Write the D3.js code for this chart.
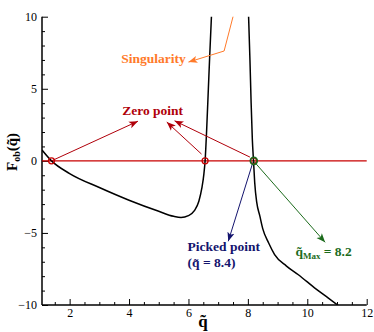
<!DOCTYPE html>
<html>
<head>
<meta charset="utf-8">
<script src="https://cdn.jsdelivr.net/npm/d3@7"></script>
<style>
  body { margin: 0; background: #fff; }
</style>
</head>
<body>
<div id="chart"></div>
<script>
// branch before the singularity (q, F)
const leftQ = [1.07, 1.39, 2, 3, 4, 5, 5.5, 5.75, 6.0, 6.2, 6.35, 6.45, 6.52, 6.56, 6.62, 6.67, 6.72, 6.78];
const leftF = [0.75, 0, -0.88, -1.85, -2.73, -3.5, -3.85, -3.93, -3.8, -3.45, -2.8, -1.9, -0.9, 0, 2.5, 5, 7.5, 10.3];
// branch after the singularity
const rightQ = [8.02, 8.07, 8.11, 8.15, 8.19, 8.23, 8.3, 8.4, 8.5, 8.7, 8.9, 9.3, 9.7, 10.3, 10.7, 11.05];
const rightF = [10.3, 7, 4, 1.5, 0, -1.5, -2.9, -3.8, -4.7, -5.7, -6.5, -7.3, -7.9, -8.9, -9.5, -10.05];

const zeroQ = [1.39, 6.56, 8.19];
const pickedQ = 8.4;
const maxQ = 8.2;

const xTicks = [2, 4, 6, 8, 10, 12];
const yTicks = [-10, -5, 0, 5, 10];

const serif = "Liberation Serif";

const W = 374, H = 332;
const svg = d3.select("#chart").append("svg")
  .attr("width", W).attr("height", H);

const x = d3.scaleLinear().domain([1.07, 12]).range([42, 366.7]);
const y = d3.scaleLinear().domain([-10, 10]).range([305, 16.7]);

svg.append("clipPath").attr("id", "clip")
  .append("rect")
  .attr("x", 42).attr("y", 16.7)
  .attr("width", 324.7).attr("height", 288.3);

// arrow heads
function marker(id, color) {
  svg.append("defs").append("marker")
    .attr("id", id)
    .attr("viewBox", "0 0 10 10")
    .attr("refX", 10).attr("refY", 5)
    .attr("markerWidth", 9).attr("markerHeight", 9)
    .attr("markerUnits", "userSpaceOnUse")
    .attr("orient", "auto")
    .append("path")
    .attr("d", "M0,1 L10,5 L0,9 L2.5,5 Z")
    .attr("fill", color);
}
const orange = "#ff7a2a", darkRed = "#b0000a", navy = "#14146e", green = "#1c6b1c";
marker("mOrange", orange);
marker("mRed", darkRed);
marker("mNavy", navy);
marker("mGreen", green);

// axes
const xAxis = svg.append("g").attr("transform", "translate(0,305)")
  .call(d3.axisBottom(x).tickValues(xTicks).tickSize(-6).tickPadding(3).tickFormat(d3.format("d")));
svg.append("g").attr("transform", "translate(0,305)")
  .call(d3.axisBottom(x).tickValues(d3.range(1.5, 12, 0.5).filter(v => v % 2 !== 0)).tickSize(-3).tickFormat(""))
  .select(".domain").remove();
const yAxis = svg.append("g").attr("transform", "translate(42,0)")
  .call(d3.axisLeft(y).tickValues(yTicks).tickSize(-6).tickPadding(5).tickFormat(d3.format("d")));
svg.append("g").attr("transform", "translate(42,0)")
  .call(d3.axisLeft(y).tickValues(d3.range(-9, 10, 1).filter(v => v % 5 !== 0)).tickSize(-3).tickFormat(""))
  .select(".domain").remove();

xAxis.select(".domain").attr("d", "M42,0H366.7").attr("stroke-width", 1.5);
yAxis.select(".domain").attr("d", "M0,16.7V305").attr("stroke-width", 1.5);
svg.selectAll(".tick line").attr("stroke-width", 1);
svg.selectAll(".tick text").attr("font-size", 12).attr("fill", "#000");

// zero line
svg.append("line")
  .attr("x1", x(1.07)).attr("x2", x(12))
  .attr("y1", y(0)).attr("y2", y(0))
  .attr("stroke", "#c80000").attr("stroke-width", 1.3);

// curve
const line = d3.line().x(d => x(d[0])).y(d => y(d[1])).curve(d3.curveMonotoneX);
[[leftQ, leftF], [rightQ, rightF]].forEach(([qs, fs]) => {
  svg.append("path")
    .datum(qs.map((q, i) => [q, fs[i]]))
    .attr("clip-path", "url(#clip)")
    .attr("d", line)
    .attr("fill", "none")
    .attr("stroke", "#000")
    .attr("stroke-width", 1.5);
});

// annotation arrows (data coordinates)
const arrows = [
  { pts: [[7.5, 10], [7.2, 7.62], [6.0, 6.85]], color: orange, m: "mOrange" },
  { pts: [[1.39, 0], [4.3, 2.75]], color: darkRed, m: "mRed" },
  { pts: [[6.44, 0.47], [5.27, 2.69]], color: darkRed, m: "mRed" },
  { pts: [[8.07, 0.26], [5.53, 2.78]], color: darkRed, m: "mRed" },
  { pts: [[8.17, -0.1], [7.34, -5.58]], color: navy, m: "mNavy" },
  { pts: [[8.2, -0.03], [10.6, -5.65]], color: green, m: "mGreen" }
];
const aline = d3.line().x(d => x(d[0])).y(d => y(d[1]));
arrows.forEach(a => {
  svg.append("path")
    .attr("d", aline(a.pts))
    .attr("fill", "none")
    .attr("stroke", a.color)
    .attr("stroke-width", 1)
    .attr("marker-end", `url(#${a.m})`);
});

// zero point markers
svg.selectAll(".zero").data(zeroQ).enter().append("circle")
  .attr("cx", d => x(d)).attr("cy", y(0)).attr("r", 3)
  .attr("fill", "none").attr("stroke", "#c80000").attr("stroke-width", 1.3);
svg.append("circle")
  .attr("cx", x(maxQ)).attr("cy", y(0)).attr("r", 3.5)
  .attr("fill", "none").attr("stroke", green).attr("stroke-width", 1.6);

// labels
function label(q, f, color, parts) {
  const t = svg.append("text")
    .attr("x", x(q)).attr("y", y(f))
    .attr("fill", color).attr("font-size", 13.5).attr("font-weight", "bold");
  parts.forEach(p => {
    const s = t.append("tspan").text(p.t);
    if (p.sub) s.attr("font-size", 9).attr("dy", 3);
    if (p.up) s.attr("dy", -3);
  });
  return t;
}
label(3.74, 6.78, orange, [{ t: "Singularity" }]);
label(3.77, 3.17, darkRed, [{ t: "Zero point" }]);
label(5.97, -6.25, navy, [{ t: "Picked point" }]);
label(5.97, -7.38, navy, [{ t: "(q\u0303 = " + pickedQ.toFixed(1) + ")" }]);
label(9.6, -6.6, green, [{ t: "q\u0303" }, { t: "Max", sub: true }, { t: " = " + maxQ.toFixed(1), up: true }]);

// axis titles
svg.append("text")
  .attr("x", 203).attr("y", 327)
  .attr("text-anchor", "middle")
  .attr("font-size", 17).attr("font-weight", "bold")
  .text("q\u0303");
const yl = svg.append("text")
  .attr("transform", "translate(17,152) rotate(-90)")
  .attr("text-anchor", "middle")
  .attr("font-size", 15).attr("font-weight", "bold");
yl.append("tspan").text("F");
yl.append("tspan").text("ob").attr("font-size", 10).attr("dy", 3);
yl.append("tspan").text("(q\u0303)").attr("dy", -3);

svg.selectAll("text").style("font-family", serif);
</script>
</body>
</html>
